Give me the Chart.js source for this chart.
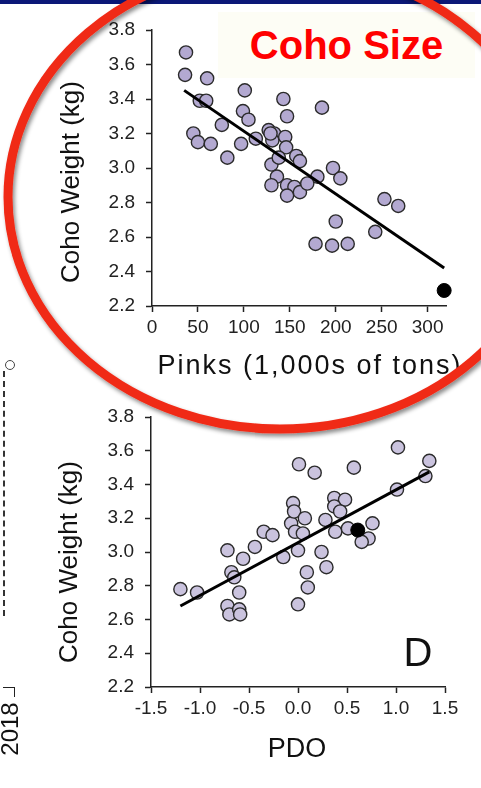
<!DOCTYPE html>
<html>
<head>
<meta charset="utf-8">
<script src="https://cdn.jsdelivr.net/npm/chart.js@4.4.1/dist/chart.umd.min.js"></script>
<style>
  html, body { margin: 0; padding: 0; background: #fff; }
  body { width: 481px; height: 788px; position: relative; overflow: hidden;
         font-family: "Liberation Sans", Arial, sans-serif; color: #111; }
  .abs { position: absolute; }
  #topbar { left: 0; top: 0; width: 481px; height: 4px; background: #0b1877; }
  #chartTop { left: 0; top: 0; }
  #chartBot { left: 0; top: 390px; }
  .title { white-space: nowrap; transform: translate(-50%, -50%); }
  .ytitle { font-size: 26px; white-space: nowrap; transform: translate(-50%, -50%) rotate(-90deg); }
  #label { left: 218px; top: 12px; width: 257px; height: 66px; background: #fdfdf5;
           color: #ff0000; font-weight: bold; font-size: 40px; line-height: 66px; text-align: center; }
  #ring { left: 0; top: 0; pointer-events: none; }
  #dash { left: 3px; top: 371px; height: 245px; border-left: 2px dashed #333; }
  #dot { left: 5px; top: 360px; width: 8px; height: 8px; border: 1.5px solid #444; border-radius: 50%; background: #fff; }
  #bracket { left: 3px; top: 687px; width: 11px; height: 9px; border-top: 1.5px solid #222; border-right: 1.5px solid #222; }
  #yr { left: 10px; top: 729px; font-size: 24px; white-space: nowrap; transform: translate(-50%, -50%) rotate(-90deg); }
</style>
</head>
<body>
<div id="topbar" class="abs"></div>
<canvas id="chartTop" class="abs" width="481" height="390"></canvas>
<canvas id="chartBot" class="abs" width="481" height="398"></canvas>

<div class="abs ytitle" style="left:70px;top:182px">Coho Weight (kg)</div>
<div class="abs title" style="left:310px;top:365px;font-size:27px;letter-spacing:2px">Pinks (1,000s of tons)</div>
<div class="abs ytitle" style="left:68px;top:562px">Coho Weight (kg)</div>
<div class="abs title" style="left:297px;top:748px;font-size:27px">PDO</div>
<div class="abs title" style="left:418px;top:652px;font-size:40px">D</div>

<div id="label" class="abs">Coho Size</div>

<div id="dash" class="abs"></div>
<div id="dot" class="abs"></div>
<div id="bracket" class="abs"></div>
<div id="yr" class="abs">2018</div>

<svg id="ring" class="abs" width="481" height="788">
  <defs>
    <filter id="sh" x="-10%" y="-10%" width="120%" height="120%">
      <feDropShadow dx="2" dy="3" stdDeviation="2" flood-color="#000" flood-opacity="0.45"/>
    </filter>
  </defs>
  <ellipse cx="280" cy="197" rx="272" ry="232" fill="none" stroke="#f02a17" stroke-width="9" filter="url(#sh)"/>
</svg>

<script>
// ── Данные: верхний график (горбуша → вес кижуча) ─────────────
const pinksX = [37, 36, 60, 101, 52, 59, 143, 185, 99, 105, 147, 76, 45, 50, 64, 97,
                113, 127, 133, 131, 145, 146, 82, 130, 138, 157, 161, 136, 180, 197,
                130, 147, 155, 147, 161, 169, 205, 200, 178, 196, 213, 243, 253, 268, 129];
const pinksCoho = [3.67, 3.54, 3.52, 3.45, 3.39, 3.39, 3.40, 3.35, 3.33, 3.28, 3.30, 3.25, 3.20, 3.15, 3.14, 3.14,
                   3.17, 3.22, 3.20, 3.16, 3.18, 3.12, 3.06, 3.02, 3.06, 3.07, 3.04, 2.95, 2.95, 3.00,
                   2.90, 2.90, 2.89, 2.84, 2.86, 2.91, 2.94, 2.69, 2.56, 2.55, 2.56, 2.63, 2.82, 2.78, 3.20];
const pinks2018X = [318];
const pinks2018Y = [2.29];
const pinksFitX  = [35, 318];
const pinksFitY  = [3.45, 2.42];
const pinksTicks = [0, 50, 100, 150, 200, 250, 300];

// ── Данные: нижний график (PDO → вес кижуча) ──────────────────
const pdoX = [-1.20, -1.03, -0.72, -0.56, -0.44, -0.35, -0.26, -0.68, -0.65, -0.60, -0.72, -0.70, -0.60, -0.59,
              -0.15, 0.00, 0.00, -0.07, -0.03, 0.05, 0.09, 0.10, -0.05, -0.04, 0.07, 0.24, 0.29, 0.28,
              0.38, 0.37, 0.48, 0.37, 0.43, 0.51, 0.17, 1.02, 1.34, 1.30, 1.01, 0.01, 0.57, 0.76, 0.72, 0.65];
const pdoCoho = [2.78, 2.76, 3.01, 2.96, 3.03, 3.12, 3.10, 2.88, 2.85, 2.76, 2.68, 2.63, 2.66, 2.63,
                 2.97, 3.01, 2.69, 3.17, 3.12, 3.11, 2.88, 2.79, 3.29, 3.24, 3.20, 3.00, 2.91, 3.19,
                 3.12, 3.32, 3.31, 3.27, 3.24, 3.14, 3.47, 3.62, 3.54, 3.45, 3.37, 3.52, 3.50, 3.17, 3.08, 3.06];
const pdo2018X = [0.61];
const pdo2018Y = [3.13];
const pdoFitX  = [-1.2, 1.34];
const pdoFitY  = [2.68, 3.475];
const pdoTicks = [-1.5, -1.0, -0.5, 0.0, 0.5, 1.0, 1.5];

const weightTicks = [2.2, 2.4, 2.6, 2.8, 3.0, 3.2, 3.4, 3.6, 3.8];

// ── Утилиты ───────────────────────────────────────────────────
const FONT = { family: '"Liberation Sans", Arial, sans-serif', size: 19 };

function zip(xs, ys) { return xs.map((x, i) => ({ x, y: ys[i] })); }

function axis(min, max, ticks, fmt, fit) {
  return {
    type: 'linear', min, max,
    afterBuildTicks: s => { s.ticks = ticks.map(v => ({ value: v })); },
    afterFit: fit,
    ticks: { color: '#222', font: FONT, padding: 0, autoSkip: false, maxRotation: 0, callback: fmt },
    grid: { display: true, drawOnChartArea: false, drawTicks: true, tickLength: 6, tickColor: '#222', tickWidth: 1.5 },
    border: { display: true, color: '#222', width: 1.5 }
  };
}

function scatter(canvasId, o) {
  const x = axis(o.xMin, o.xMax, o.xTicks, o.xFmt, s => { s.height = o.xH; });
  x.ticks.padding = 4;
  const y = axis(2.2, 3.8, weightTicks, v => v.toFixed(1), s => { s.width = o.yW; });
  y.ticks.padding = 11;
  return new Chart(document.getElementById(canvasId), {
    type: 'scatter',
    data: {
      datasets: [
        { data: zip(o.hiX, o.hiY), backgroundColor: '#000', borderColor: '#000', pointRadius: 7, clip: false },
        { data: zip(o.fitX, o.fitY), showLine: true, borderColor: '#000', borderWidth: 3, pointRadius: 0, clip: false },
        { data: zip(o.xs, o.ys), backgroundColor: o.fill, borderColor: '#2b2b2b', borderWidth: 1.4, pointRadius: 6.6, clip: false }
      ]
    },
    options: {
      responsive: false, animation: false, events: [],
      layout: { padding: o.pad },
      plugins: { legend: { display: false }, tooltip: { enabled: false } },
      scales: { x, y }
    }
  });
}

scatter('chartTop', {
  xs: pinksX, ys: pinksCoho, hiX: pinks2018X, hiY: pinks2018Y, fitX: pinksFitX, fitY: pinksFitY,
  xMin: 0, xMax: 320, xTicks: pinksTicks, xFmt: v => String(v),
  fill: '#b3a9d1', yW: 152, xH: 84, pad: { left: 0, right: 35, top: 30, bottom: 0 }
});

scatter('chartBot', {
  xs: pdoX, ys: pdoCoho, hiX: pdo2018X, hiY: pdo2018Y, fitX: pdoFitX, fitY: pdoFitY,
  xMin: -1.5, xMax: 1.5, xTicks: pdoTicks, xFmt: v => v.toFixed(1),
  fill: '#cac3de', yW: 151, xH: 101, pad: { left: 0, right: 36, top: 27, bottom: 0 }
});
</script>
</body>
</html>
